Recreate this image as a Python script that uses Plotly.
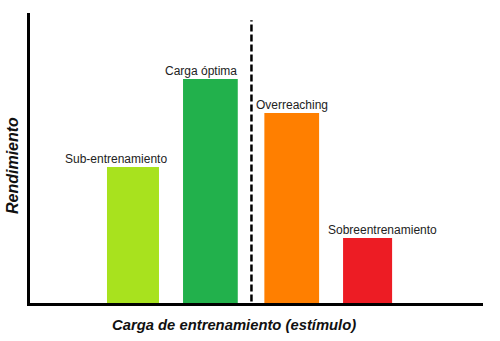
import plotly.graph_objects as go

# Training load zones and the performance they produce
categories = ["Sub-entrenamiento", "Carga óptima", "Overreaching", "Sobreentrenamiento"]
performance = [46.9, 77.2, 65.5, 22.4]
colors = ["#a8e21e", "#22b14c", "#ff7f00", "#ed1c24"]

# Layout helpers: bar positions/widths and label nudges along x
positions = [1.0, 1.99, 3.03, 4.0]
widths = [0.665, 0.70, 0.70, 0.627]
label_dx = [-0.22, -0.12, 0.0, 0.19]
divider_x = 2.515

fig = go.Figure()
fig.add_trace(go.Bar(
    x=positions,
    y=performance,
    width=widths,
    marker=dict(color=colors, line=dict(width=0)),
    hoverinfo="skip",
))

# Dashed separator between adaptive and maladaptive loads
fig.add_shape(
    type="line", xref="x", yref="paper",
    x0=divider_x, x1=divider_x, y0=0.005, y1=0.975,
    line=dict(color="black", width=2.5, dash="7px,3px"),
)

for cat, px, dx, val in zip(categories, positions, label_dx, performance):
    fig.add_annotation(
        x=px + dx, y=val, xref="x", yref="y",
        text=cat, showarrow=False,
        xanchor="center", yanchor="bottom", yshift=-1,
        font=dict(family="Liberation Sans, Arial", size=12, color="#222222"),
    )

# Axis titles (placed in pixels, converted to paper coords below)
fig.add_annotation(
    x=234, y=325, xref="paper", yref="paper", text="<b><i>Carga de entrenamiento (estímulo)</i></b>",
    showarrow=False, xanchor="center", yanchor="middle",
    font=dict(family="Liberation Sans, Arial", size=14.8, color="#111111"),
)
fig.add_annotation(
    x=12, y=166, xref="paper", yref="paper", text="<b><i>Rendimiento</i></b>",
    showarrow=False, textangle=-90, xanchor="center", yanchor="middle",
    font=dict(family="Liberation Sans, Arial", size=16, color="#111111"),
)

W, H = 500, 341
L, R, T, B = 30, 17, 13, 38
pw, ph = W - L - R, H - T - B

for a in fig.layout.annotations:
    if a.xref == "paper":
        a.x = (a.x - L) / pw
        a.y = (H - B - a.y) / ph

fig.update_layout(
    width=W, height=H,
    margin=dict(l=L, r=R, t=T, b=B),
    paper_bgcolor="white", plot_bgcolor="white",
    showlegend=False,
    xaxis=dict(range=[-0.317, 5.476], showline=True, linecolor="black", linewidth=2.5,
               showticklabels=False, ticks="", showgrid=False, zeroline=False, fixedrange=True),
    yaxis=dict(range=[0, 100], showline=True, linecolor="black", linewidth=2.5,
               showticklabels=False, ticks="", showgrid=False, zeroline=False, fixedrange=True),
)

fig.write_html("out.html", config={"displayModeBar": False})
